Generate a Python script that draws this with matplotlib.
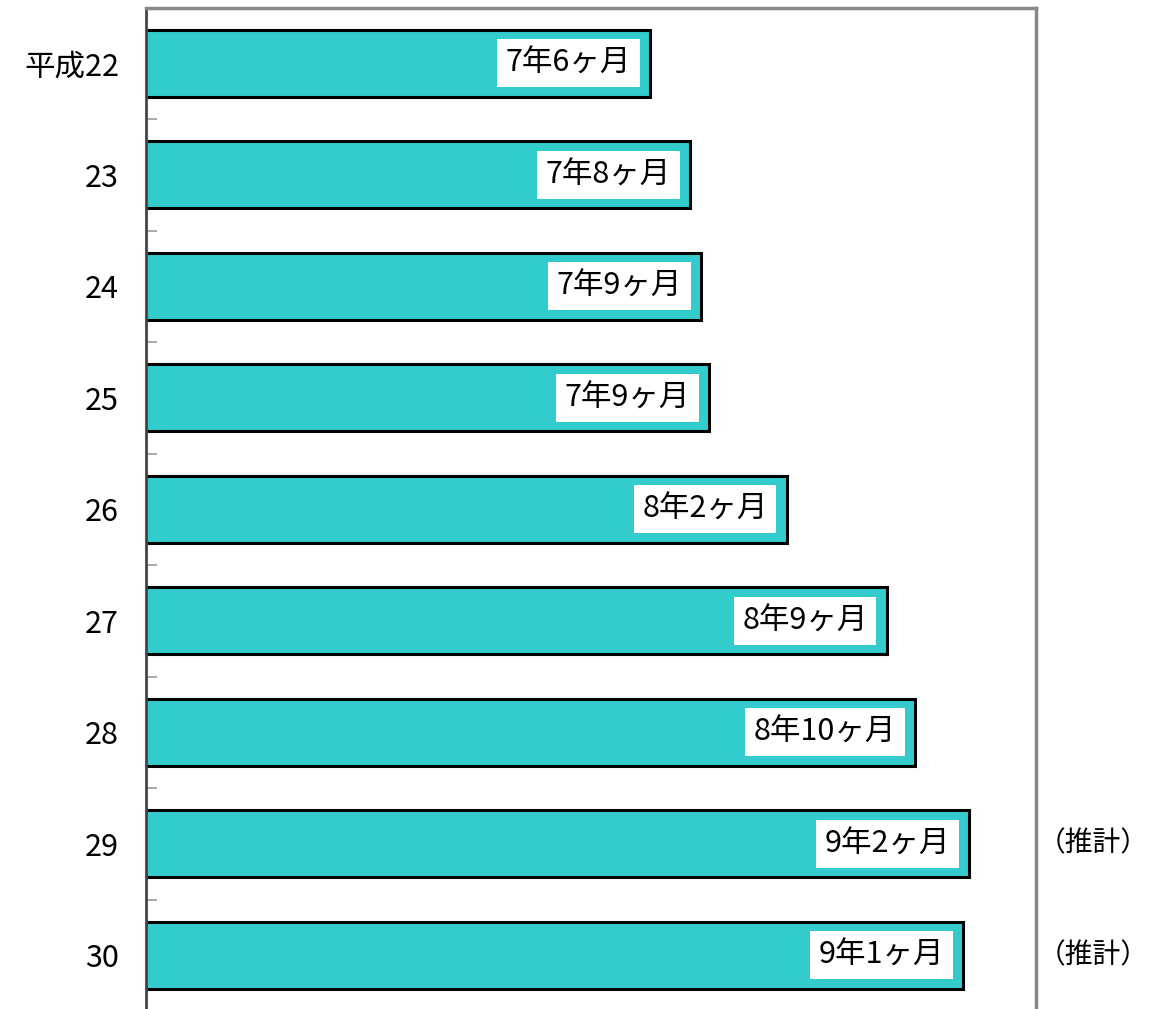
import matplotlib
matplotlib.use("Agg")
import matplotlib.pyplot as plt

plt.rcParams['font.family'] = ['Noto Sans CJK JP', 'DejaVu Sans']

# Average duration (months) by fiscal year
years = ['平成22', '23', '24', '25', '26', '27', '28', '29', '30']
months = [90.2, 92.7, 93.4, 93.9, 98.8, 105.1, 106.9, 110.3, 109.9]
notes = ['', '', '', '', '', '', '', '（推計）', '（推計）']


def ym_label(m):
    return f"{int(m // 12)}年{int(m % 12)}ヶ月"


W, H = 1151, 1009
fig = plt.figure(figsize=(W / 100, H / 100), dpi=100)
left, right, top, bottom = 145.5, 1036, 7.5, 1011
ax = fig.add_axes([left / W, (H - bottom) / H, (right - left) / W, (bottom - top) / H])

ypos = list(range(len(years)))
ax.barh(ypos, months, height=0.6, left=0, color='#33CCCC',
        edgecolor='black', linewidth=2.2, zorder=2)

ax.set_xlim(58.4, 114.5)
ax.set_ylim(len(years) - 0.5, -0.5)

for i, (m, note) in enumerate(zip(months, notes)):
    ax.annotate(ym_label(m), xy=(m, i), xytext=(-19, 0), textcoords='offset pixels',
                ha='right', va='center', fontsize=22, color='black', zorder=3,
                bbox=dict(boxstyle='square,pad=0.28', facecolor='white', edgecolor='none'))
    if note:
        ax.annotate(note, xy=(1.0, i), xycoords=('figure fraction', 'data'),
                    xytext=(-2, 0), textcoords='offset pixels',
                    ha='right', va='center', fontsize=20, color='black',
                    annotation_clip=False)

ax.set_yticks(ypos)
ax.set_yticklabels(years, fontsize=22)
ax.set_yticks([p + 0.5 for p in ypos[:-1]], minor=True)
ax.tick_params(axis='y', which='major', length=0, pad=19)
ax.tick_params(axis='y', which='minor', direction='in', length=8, width=1.2, color='#999999')
ax.set_xticks([])

for side in ['top', 'right']:
    ax.spines[side].set_color('#888888')
    ax.spines[side].set_linewidth(2.5)
ax.spines['left'].set_color('#444444')
ax.spines['left'].set_linewidth(2)
ax.spines['bottom'].set_visible(False)

fig.savefig('out.png', dpi=100)
